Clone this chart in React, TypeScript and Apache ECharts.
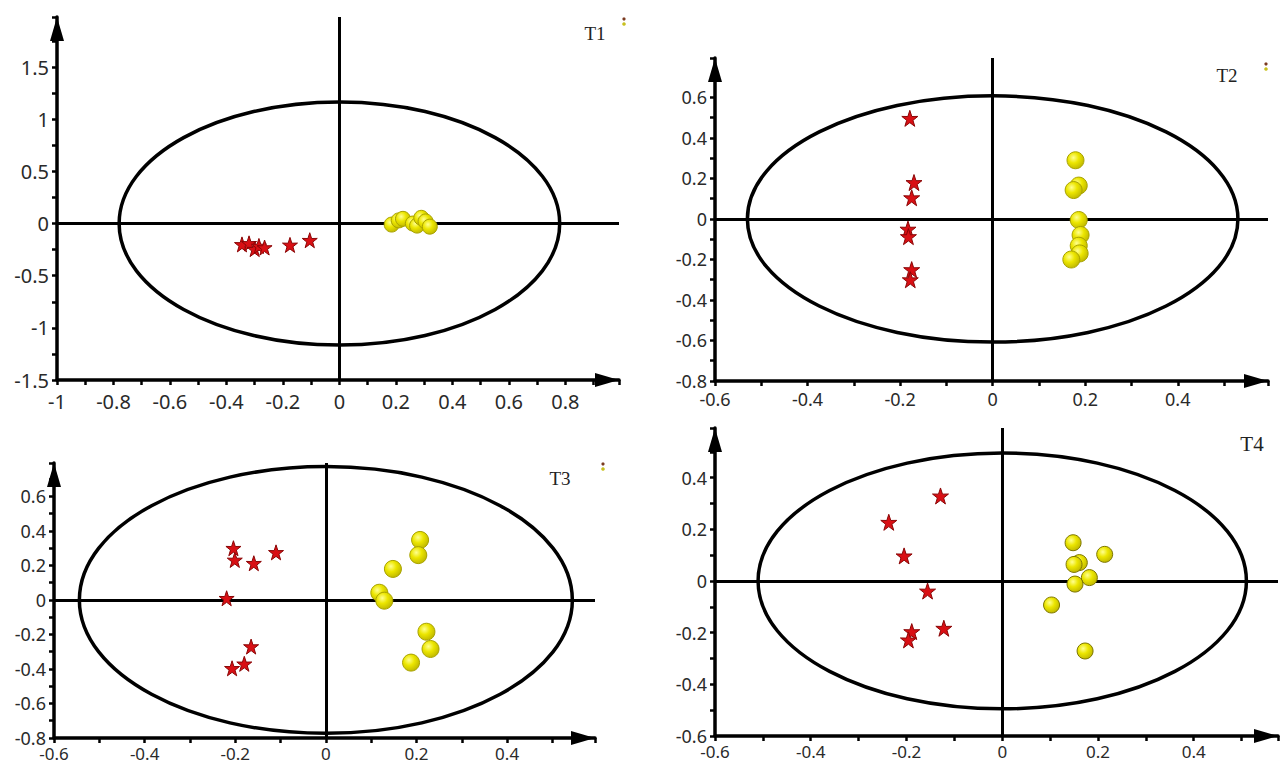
import React, { useEffect, useRef } from "react";
import * as echarts from "echarts";

// ---- data ----
const t1Stars = [[-0.345, -0.2], [-0.32, -0.19], [-0.3, -0.245], [-0.285, -0.215], [-0.265, -0.23], [-0.175, -0.205], [-0.105, -0.16]];
const t1Balls = [[0.185, -0.01], [0.21, 0.03], [0.225, 0.045], [0.26, 0.0], [0.275, -0.02], [0.29, 0.055], [0.305, 0.02], [0.32, -0.03]];
const t2Stars = [[-0.179, 0.497], [-0.17, 0.18], [-0.175, 0.105], [-0.183, -0.05], [-0.182, -0.087], [-0.175, -0.25], [-0.178, -0.3]];
const t2Balls = [[0.179, 0.29], [0.186, 0.165], [0.175, 0.143], [0.186, -0.005], [0.19, -0.079], [0.186, -0.132], [0.188, -0.17], [0.17, -0.2]];
const t3Stars = [[-0.204, 0.3], [-0.201, 0.232], [-0.159, 0.213], [-0.11, 0.276], [-0.219, 0.01], [-0.165, -0.27], [-0.18, -0.37], [-0.207, -0.396]];
const t3Balls = [[0.208, 0.348], [0.204, 0.26], [0.148, 0.18], [0.118, 0.042], [0.129, -0.004], [0.222, -0.184], [0.231, -0.284], [0.188, -0.363]];
const t4Stars = [[-0.129, 0.329], [-0.237, 0.227], [-0.205, 0.097], [-0.156, -0.039], [-0.122, -0.183], [-0.189, -0.196], [-0.196, -0.228]];
const t4Balls = [[0.148, 0.148], [0.214, 0.103], [0.161, 0.071], [0.15, 0.064], [0.182, 0.013], [0.152, -0.012], [0.103, -0.093], [0.173, -0.271]];

// ellipse: [centerX, centerY, radiusX, radiusY]
const t1Ellipse = [0, 0, 0.78, 1.165];
const t2Ellipse = [0, 0, 0.53, 0.608];
const t3Ellipse = [0, 0, 0.544, 0.773];
const t4Ellipse = [0, 0, 0.51, 0.495];

const panelNames = ["T1", "T2", "T3", "T4"];
const starsByPanel = [t1Stars, t2Stars, t3Stars, t4Stars];
const ballsByPanel = [t1Balls, t2Balls, t3Balls, t4Balls];
const ellipseByPanel = [t1Ellipse, t2Ellipse, t3Ellipse, t4Ellipse];

// axis ranges: [min, max, interval]
const xRanges = [[-1, 0.99, 0.2], [-0.6, 0.595, 0.2], [-0.6, 0.594, 0.2], [-0.6, 0.576, 0.2]];
const yRanges = [[-1.5, 1.98, 0.5], [-0.8, 0.795, 0.2], [-0.8, 0.794, 0.2], [-0.6, 0.592, 0.2]];

// ---- layout ----
const grids = [
  { left: 57, top: 17, width: 562, height: 363 },
  { left: 715, top: 58, width: 553, height: 323 },
  { left: 54, top: 463, width: 541, height: 275 },
  { left: 715, top: 428, width: 563, height: 308 },
];
const yLabelFont = [20, 18, 18, 18];
const xLabelFont = [20, 18, 17, 17];
const xLabelMargin = [11, 9, 7, 7];
const starSize = [15, 16, 15, 16];
const ballSize = [15, 17, 17, 16];
const ballBorder = ["#a8a200", "#a8a200", "#a8a200", "#7d7600"];
const titlePos = [
  [595, 33],
  [1227, 75],
  [560, 478],
  [1252, 444],
];
const iconPos = [
  [624, 22],
  [1266, 67],
  [603, 467],
];

const STAR =
  "path://M50,0 L61.8,35.1 L97.6,34.5 L68.7,56.7 L79.4,91 L50,70 L20.6,91 L31.3,56.7 L2.4,34.5 L38.2,35.1 Z";

function makeAxis(r: number[], gi: number, dir: "x" | "y") {
  return {
    type: "value",
    gridIndex: gi,
    min: r[0],
    max: r[1],
    interval: r[2],
    splitLine: { show: false },
    axisLine: {
      show: true,
      onZero: false,
      symbol: ["none", "triangle"],
      symbolSize: [14, 24],
      symbolOffset: [0, -12],
      lineStyle: { color: "#000", width: 3.5 },
    },
    axisTick: { show: true, inside: false, length: 5, lineStyle: { color: "#000", width: 2.5 } },
    minorTick: { show: true, splitNumber: 2, length: 5, lineStyle: { color: "#000", width: 2.5 } },
    axisLabel: {
      show: true,
      showMaxLabel: false,
      margin: dir === "x" ? xLabelMargin[gi] : 8,
      fontFamily: "Noto Sans",
      fontSize: dir === "x" ? xLabelFont[gi] : yLabelFont[gi],
      color: "#2a2a2a",
    },
  };
}

export default function App() {
  const ref = useRef<HTMLDivElement>(null);
  useEffect(() => {
    if (!ref.current) return;
    const chart = echarts.init(ref.current, null, { renderer: "svg" });
    const series: any[] = [];
    for (let i = 0; i < 4; i++) {
      series.push({
        type: "custom",
        xAxisIndex: i,
        yAxisIndex: i,
        z: 2,
        clip: false,
        silent: true,
        data: [ellipseByPanel[i]],
        renderItem: (params: any, api: any) => {
          const c = api.coord([api.value(0), api.value(1)]);
          const s = api.size([api.value(2), api.value(3)]);
          return {
            type: "ellipse",
            shape: { cx: c[0], cy: c[1], rx: s[0], ry: s[1] },
            style: { fill: "none", stroke: "#000", lineWidth: 3.5 },
          };
        },
      });
      series.push({
        type: "scatter",
        xAxisIndex: i,
        yAxisIndex: i,
        z: 4,
        symbol: STAR,
        symbolSize: starSize[i],
        data: starsByPanel[i],
        itemStyle: { color: "#d90f14", borderColor: "#8a0606", borderWidth: 1, opacity: 1 },
        markLine: {
          z: 1,
          silent: true,
          symbol: ["none", "none"],
          label: { show: false },
          lineStyle: { color: "#000", width: 3, type: "solid" },
          data: [{ xAxis: 0 }, { yAxis: 0 }],
        },
      });
      series.push({
        type: "scatter",
        xAxisIndex: i,
        yAxisIndex: i,
        z: 4,
        symbol: "circle",
        symbolSize: ballSize[i],
        data: ballsByPanel[i],
        itemStyle: {
          opacity: 1,
          color: new echarts.graphic.RadialGradient(0.38, 0.35, 0.7, [
            { offset: 0, color: "#ffff90" },
            { offset: 0.45, color: "#ece600" },
            { offset: 1, color: "#bdb500" },
          ]),
          borderColor: ballBorder[i],
          borderWidth: 1,
        },
      });
    }
    const graphic: any[] = [];
    titlePos.forEach((p, i) => {
      graphic.push({
        type: "text",
        x: p[0],
        y: p[1],
        style: {
          text: panelNames[i],
          fontFamily: "Liberation Serif",
          fontSize: i === 3 ? 21 : 19,
          fill: "#222",
          textAlign: "center",
          textVerticalAlign: "middle",
        },
      });
    });
    iconPos.forEach((p) => {
      graphic.push({ type: "circle", shape: { cx: p[0], cy: p[1] - 3, r: 1.6 }, style: { fill: "#7a3a20" } });
      graphic.push({ type: "circle", shape: { cx: p[0], cy: p[1] + 2, r: 1.8 }, style: { fill: "#c8c020" } });
    });
    chart.setOption({
      animation: false,
      backgroundColor: "#fff",
      grid: grids.map((g) => ({ ...g, containLabel: false })),
      xAxis: xRanges.map((r, i) => makeAxis(r, i, "x")),
      yAxis: yRanges.map((r, i) => makeAxis(r, i, "y")),
      series,
      graphic,
    });
    return () => chart.dispose();
  }, []);
  return (
    <div
      ref={ref}
      style={{ position: "fixed", left: 0, top: 0, width: 1282, height: 764 }}
    />
  );
}
